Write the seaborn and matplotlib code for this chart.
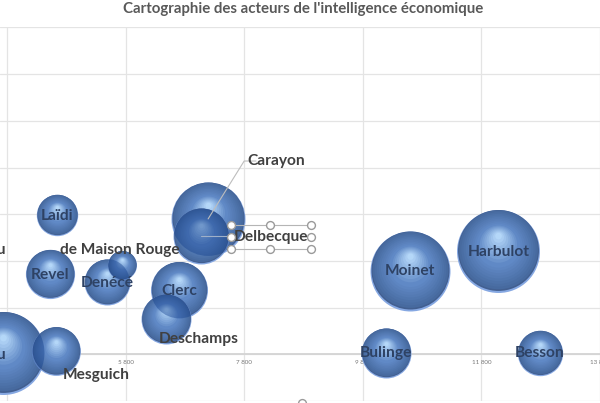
#!/usr/bin/env python3
import numpy as np
import matplotlib
matplotlib.use("Agg")
import matplotlib.pyplot as plt
from matplotlib.path import Path
from matplotlib.patches import Circle
from matplotlib.transforms import IdentityTransform
from matplotlib.colors import to_rgb
import seaborn as sns

# bubbles, in drawing order
acteurs_x = [3733, 4630, 4652, 4530, 5482, 5738, 6707, 6490, 7192, 7075, 10588, 12087, 10187, 12789]
acteurs_y = [0.03, 0.07, 2.99, 1.71, 1.55, 1.92, 1.38, 0.76, 2.90, 2.54, 1.79, 2.22, 0.03, 0.03]
tailles = [1722, 595, 428, 605, 529, 210, 812, 625, 1369, 784, 1600, 1722, 625, 515]

# labels
noms = ["du", "ou", "Mesguich", "Laïdi", "Revel", "Denécé", "de Maison Rouge", "Clerc",
        "Deschamps", "Carayon", "Delbecque", "Moinet", "Harbulot", "Bulinge", "Besson"]
noms_x = [3780, 3780, 5305, 4652, 4535, 5490, 5705, 6707, 7040, 8340, 8255, 10588, 12087, 10187, 12789]
noms_y = [2.23, -0.01, -0.44, 2.97, 1.70, 1.53, 2.23, 1.36, 0.33, 4.14, 2.51, 1.79, 2.20, 0.03, 0.03]
sur_bulle = [False, True, False, True, True, True, False, True, False, False, False, True, True, True, True]

ticks_x = [3800, 5800, 7800, 9800, 11800, 13800]
ticks_lab = ["3 800", "5 800", "7 800", "9 800", "11 800", "13 800"]
ticks_y = [-1, 0, 1, 2, 3, 4, 5, 6, 7]

# selection box around the Delbecque label
poignees_x = [7576, 8244, 8929, 7576, 8929, 7576, 8244, 8929]
poignees_y = [2.77, 2.77, 2.77, 2.52, 2.52, 2.26, 2.26, 2.26]


def cercle(f, d):
    # custom marker, returns the path and the size factor matplotlib normalises away
    c = Path.unit_circle()
    v = c.vertices * f + np.array([0, d])
    return Path(v, c.codes), np.abs(v).max() ** 2


def melange(a, b, t):
    a, b = np.array(to_rgb(a)), np.array(to_rgb(b))
    return tuple(a + (b - a) * t)


def couches():
    res = [(1.0, 0.0, "#86a8e2"), (0.975, 0.025, "#425f90")]
    for t in np.linspace(0, 1, 9):
        res.append((0.95 - 0.42 * t, 0.04 + 0.10 * t, melange("#476a9f", "#6089c6", t)))
    for t in np.linspace(0, 1, 9):
        res.append((0.50 - 0.42 * t, 0.15 + 0.22 * t, melange("#6089c6", "#b4d7f8", t)))
    return res


def main():
    sns.set_theme(style="white")
    plt.rcParams["font.family"] = ["Lato", "DejaVu Sans"]

    fig = plt.figure(figsize=(6.0, 4.03), dpi=100)
    ax = fig.add_axes([0, 2 / 403, 1, 373.5 / 403])
    ax.set_xlim(3683, 13708)
    ax.set_ylim(-1, 7)

    ax.set_xticks(ticks_x)
    ax.set_xticklabels(ticks_lab)
    ax.set_yticks(ticks_y)
    ax.tick_params(axis="x", length=0, labelsize=4.5, labelcolor="#777777", pad=4)
    ax.tick_params(axis="y", labelleft=False, length=0)
    ax.grid(True, color="#e4e4e4", linewidth=0.9)
    ax.set_axisbelow(True)
    for side in ["top", "left", "right"]:
        ax.spines[side].set_visible(False)
    ax.spines["bottom"].set_position(("data", 0))
    ax.spines["bottom"].set_color("#d4d4d4")
    ax.spines["bottom"].set_linewidth(1.3)
    ax.set_xlabel("")

    # pt^2 per unit of size, bubble radius comes out in pixels at this dpi
    k = (2 * 72 / fig.dpi) ** 2

    for i in range(len(acteurs_x)):
        x, y, s = [acteurs_x[i]], [acteurs_y[i]], tailles[i] * k
        for f, d, c in couches():
            chemin, r2 = cercle(f, d)
            sns.scatterplot(x=x, y=y, s=[s * r2], marker=chemin, color=c, linewidth=0,
                            legend=False, ax=ax, zorder=3 + i * 0.01)
        # earlier bubbles show through as a darker area
        for j in range(i):
            px, py = ax.transData.transform((acteurs_x[j], acteurs_y[j]))
            disque = Circle((px, py), np.sqrt(tailles[j]), transform=IdentityTransform())
            sns.scatterplot(x=x, y=y, s=[s], marker="o", color="#123f8c", alpha=0.42,
                            linewidth=0, legend=False, ax=ax, zorder=3 + i * 0.01 + 0.005)
            ax.collections[-1].set_clip_path(disque)

    # leader lines
    ax.plot([8000, 7800, 7192], [4.14, 4.14, 2.90], color="#bdbdbd", lw=0.8, zorder=4)
    ax.plot([7075, 7560], [2.54, 2.54], color="#9fb0c8", lw=0.8, zorder=4)

    for n, x, y, b in zip(noms, noms_x, noms_y, sur_bulle):
        ha = "right" if n in ("du", "ou") else "center"
        ax.text(x, y, n, ha=ha, va="center", fontsize=11.2, fontweight="bold",
                color="#2e4264" if b else "#404040", zorder=5)

    # selection box
    ax.plot([7576, 8929], [2.77, 2.77], color="#b5b5b5", lw=0.8, zorder=5)
    ax.plot([7576, 8929], [2.26, 2.26], color="#b5b5b5", lw=0.8, zorder=5)
    sns.scatterplot(x=poignees_x, y=poignees_y, s=32, marker="o", color="white",
                    edgecolor="#9a9a9a", linewidth=1.0, legend=False, ax=ax, zorder=6)
    sns.scatterplot(x=[8780], y=[-1.04], s=32, marker="o", color="white", edgecolor="#9a9a9a",
                    linewidth=1.0, legend=False, ax=ax, zorder=6, clip_on=False)

    fig.text(303.5 / 600, 1 - 9 / 403, "Cartographie des acteurs de l'intelligence économique",
             ha="center", va="center", fontsize=10.8, fontweight="bold", color="#595959")

    fig.savefig("out.png", dpi=100, facecolor="white")
    plt.close(fig)


if __name__ == "__main__":
    main()
